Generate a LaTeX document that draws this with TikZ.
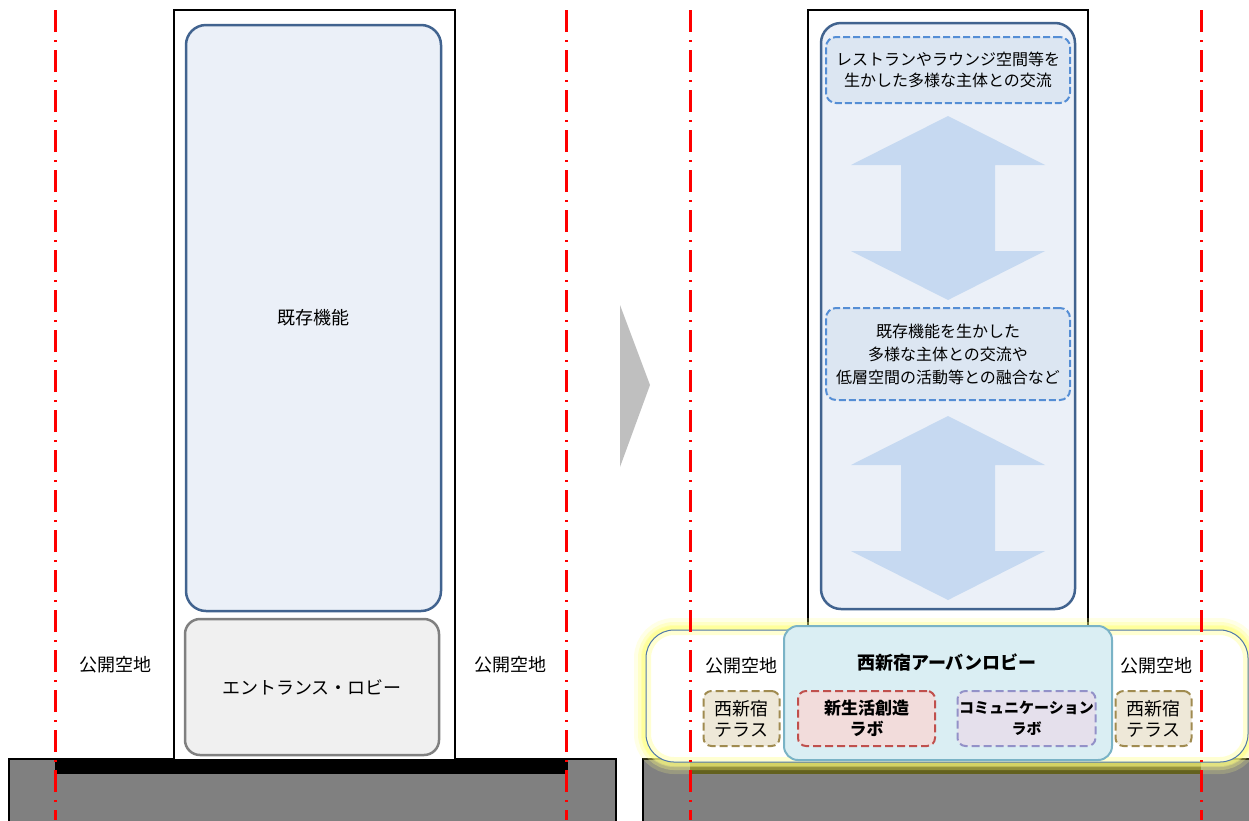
\documentclass[tikz,border=0pt]{standalone}
\usepackage{fontspec}
\setmainfont{Noto Sans CJK JP}
\usetikzlibrary{backgrounds}
\definecolor{framecolor}{HTML}{41638F}
\definecolor{panelfill}{HTML}{EBF0F8}
\definecolor{notecolor}{HTML}{558ED5}
\definecolor{notefill}{HTML}{DCE6F2}
\definecolor{arrowfill}{HTML}{C6D9F1}
\definecolor{lobbyfill}{HTML}{DAEEF3}
\definecolor{lobbyedge}{HTML}{7AB3C6}
\definecolor{bandedge}{HTML}{4F77A8}
\definecolor{glowcolor}{HTML}{FFFF80}
\definecolor{terracefill}{HTML}{EEE8D8}
\definecolor{terraceedge}{HTML}{A08B50}
\definecolor{labredfill}{HTML}{F2DCDB}
\definecolor{labrededge}{HTML}{C0504D}
\definecolor{labpurplefill}{HTML}{E5E0EC}
\definecolor{labpurpleedge}{HTML}{9391C8}
\definecolor{bandfill}{HTML}{3C3A06}
\newcommand{\axiscolor}{red}
\newcommand{\axiswidth}{3pt}
\newcommand{\glowround}{28pt}

\begin{document}
\begin{tikzpicture}[x=1pt,y=-1pt,
  panel/.style={draw=framecolor, line width=2.5pt, fill=panelfill, rounded corners=20pt},
  notebox/.style={draw=notecolor, line width=2pt, fill=notefill, rounded corners=10pt,
    dash pattern=on 7pt off 3pt, align=center, font=\fontsize{16}{21}\selectfont},
  labbox/.style={line width=2pt, rounded corners=8pt, dash pattern=on 8pt off 4pt,
    align=center, minimum height=55pt},
  lbl/.style={font=\fontsize{18}{22}\selectfont},
  axis/.style={\axiscolor, line width=\axiswidth, dash pattern=on 22pt off 8pt on 2pt off 8pt}]
\useasboundingbox (0,0) rectangle (1249,820);
%left ground
\draw[black, line width=1.5pt, fill=black!50] (9,759) rectangle (616,830);
\fill[black] (55,759) rectangle (568,774);
%left building
\draw[black, line width=2pt, fill=white] (174,10) rectangle (455,760);
\node[panel, minimum width=255pt, minimum height=586pt, lbl] (oldpanel) at (313.5,318) {既存機能};
\node[draw=black!50, line width=2.5pt, fill=black!6, rounded corners=15pt,
  minimum width=254pt, minimum height=136pt, lbl] (entrance) at (312,687) {エントランス・ロビー};
\node[lbl] (openL1) at (115,665) {公開空地};
\node[lbl] (openL2) at (510,665) {公開空地};
%arrow
\fill[black!25] (620,305) -- (650,385) -- (620,467) -- cycle;
%right ground
\draw[black, line width=1.5pt, fill=black!50] (643,759) rectangle (1260,830);
\fill[bandfill] (690,759) rectangle (1201,774);
%right building
\draw[black, line width=2pt, fill=white] (808,10) rectangle (1088,760);
\node[panel, minimum width=254pt, minimum height=586pt] (newpanel) at (948,316) {};
\node[notebox, minimum width=244pt, minimum height=66pt] (upnote) at (948,70)
  {レストランやラウンジ空間等を\\生かした多様な主体との交流};
\node[notebox, minimum width=244pt, minimum height=92pt, font=\fontsize{16}{23}\selectfont] (lownote) at (948,354)
  {既存機能を生かした\\多様な主体との交流や\\低層空間の活動等との融合など};
\fill[arrowfill] (948,116) -- (1045,165) -- (995,165) -- (995,251) -- (1045,251) -- (948,300)
  -- (851,251) -- (901,251) -- (901,165) -- (851,165) -- cycle;
\fill[arrowfill] (948,416) -- (1045,465) -- (995,465) -- (995,551) -- (1045,551) -- (948,600)
  -- (851,551) -- (901,551) -- (901,465) -- (851,465) -- cycle;
%lobby
\begin{scope}
\draw[glowcolor, opacity=0.2, line width=24pt, rounded corners=\glowround] (646,630) rectangle (1248,762);
\draw[glowcolor, opacity=0.3, line width=16pt, rounded corners=\glowround] (646,630) rectangle (1248,762);
\draw[glowcolor, opacity=0.4, line width=8pt, rounded corners=\glowround] (646,630) rectangle (1248,762);
\fill[white, rounded corners=\glowround] (646,630) rectangle (1248,762);
\draw[glowcolor, opacity=0.35, line width=10pt, rounded corners=\glowround] (646,630) rectangle (1248,762);
\draw[bandedge, line width=1pt, rounded corners=\glowround] (646,630) rectangle (1248,762);
\end{scope}
\node[draw=lobbyedge, line width=2pt, fill=lobbyfill, rounded corners=14pt,
  minimum width=328pt, minimum height=134pt] (lobby) at (948,693) {};
\node[lbl, font=\fontsize{18}{22}\selectfont\bfseries] (lobbytitle) at (947,663) {西新宿アーバンロビー};
\node[lbl] (openR1) at (741,666) {公開空地};
\node[lbl] (openR2) at (1156,666) {公開空地};
\node[labbox, draw=terraceedge, fill=terracefill, minimum width=76pt,
  font=\fontsize{18}{21}\selectfont] (terraceL) at (741.5,718.5) {西新宿\\テラス};
\node[labbox, draw=terraceedge, fill=terracefill, minimum width=76pt,
  font=\fontsize{18}{21}\selectfont] (terraceR) at (1153.5,718.5) {西新宿\\テラス};
\node[labbox, draw=labrededge, fill=labredfill, minimum width=137pt,
  font=\fontsize{17}{21}\selectfont\bfseries] (lifelab) at (866.5,718.5) {新生活創造\\ラボ};
\node[labbox, draw=labpurpleedge, fill=labpurplefill, minimum width=138pt, inner sep=1pt,
  font=\fontsize{15}{21}\selectfont\bfseries] (commlab) at (1026.5,718.5) {コミュニケーション\\ラボ};
%axes
\draw[axis] (55,10) -- (55,820);
\draw[axis] (566,10) -- (566,820);
\draw[axis] (690,10) -- (690,820);
\draw[axis] (1201,10) -- (1201,820);
\end{tikzpicture}
\end{document}
